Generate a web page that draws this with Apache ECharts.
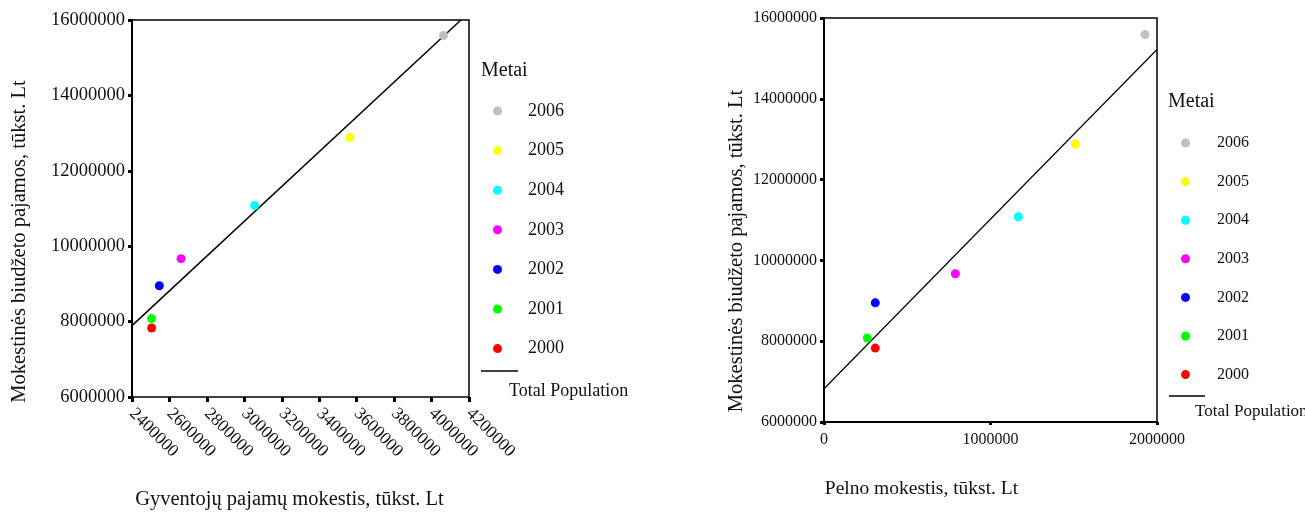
<!DOCTYPE html>
<html>
<head>
<meta charset="utf-8">
<script src="https://cdn.jsdelivr.net/npm/echarts@6/dist/echarts.min.js"></script>
<style>
  html, body { margin: 0; padding: 0; background: #fff; }
  #chart { width: 1305px; height: 512px; }
</style>
</head>
<body>
<div id="chart"></div>
<script>
// Budget tax revenue vs. personal income tax and profit tax, 2000–2006 (thous. Lt)
const years = ['2006', '2005', '2004', '2003', '2002', '2001', '2000'];
const budgetRevenue = [15590000, 12880000, 11080000, 9670000, 8950000, 8080000, 7830000];
const personalIncomeTax = [4064000, 3564000, 3055000, 2662000, 2546000, 2505000, 2505000];
const profitTax = [1928000, 1509000, 1167000, 789000, 308000, 260000, 308000];

// Fitted line ends (Total Population)
const fitIncomeTax = [[2400000, 7894000], [4157000, 16000000]];
const fitProfitTax = [[0, 6824000], [2000000, 15220000]];

// Axis ranges
const yRange = [6000000, 16000000, 2000000];
const xIncomeRange = [2400000, 4200000, 200000];
const xProfitRange = [0, 2000000, 1000000];

const yearColors = ['#c0c0c0', '#ffff00', '#00ffff', '#ff00ff', '#0000ff', '#00ff00', '#ff0000'];
const FONT = "'Liberation Serif', 'Times New Roman', serif";
const INK = '#111';
const plain = v => String(Math.round(v));

const chart = echarts.init(document.getElementById('chart'), null, { renderer: 'canvas' });

function yAxisFor(gridIndex, labelSize, nameOpts) {
  return {
    type: 'value', gridIndex,
    min: yRange[0], max: yRange[1], interval: yRange[2],
    name: 'Mokestinės biudžeto pajamos, tūkst. Lt',
    nameLocation: 'middle', nameRotate: 90,
    nameGap: nameOpts.gap,
    nameTextStyle: { fontFamily: FONT, fontSize: 20.5, color: INK, padding: nameOpts.padding },
    axisLine: { show: true, lineStyle: { color: '#000', width: 2 } },
    axisTick: { show: true, length: 4, lineStyle: { color: '#000', width: 3 } },
    axisLabel: { fontFamily: FONT, fontSize: labelSize, color: INK, margin: 7, formatter: plain },
    splitLine: { show: false }
  };
}

const scatterSeries = [];
years.forEach((y, i) => {
  scatterSeries.push({
    name: y, type: 'scatter', xAxisIndex: 0, yAxisIndex: 0,
    symbolSize: 9, itemStyle: { color: yearColors[i], opacity: 1 },
    data: [[personalIncomeTax[i], budgetRevenue[i]]], z: 3
  });
  scatterSeries.push({
    name: y, type: 'scatter', xAxisIndex: 1, yAxisIndex: 1,
    symbolSize: 9, itemStyle: { color: yearColors[i], opacity: 1 },
    data: [[profitTax[i], budgetRevenue[i]]], z: 3
  });
});

const option = {
  backgroundColor: '#fff',
  animation: false,
  grid: [
    { left: 132, top: 20, width: 337, height: 377, show: true, borderColor: '#000', borderWidth: 1.5,
      containLabel: false, outerBoundsMode: 'none' },
    { left: 824, top: 18, width: 333, height: 404, show: true, borderColor: '#000', borderWidth: 1.5,
      containLabel: false, outerBoundsMode: 'none' }
  ],
  xAxis: [
    {
      type: 'value', gridIndex: 0,
      min: xIncomeRange[0], max: xIncomeRange[1], interval: xIncomeRange[2],
      name: 'Gyventojų pajamų mokestis, tūkst. Lt',
      nameLocation: 'middle', nameGap: 92,
      nameTextStyle: { fontFamily: FONT, fontSize: 20.5, color: INK, padding: [0, 22, 0, 0] },
      axisLine: { show: false },
      axisTick: { show: true, length: 5, lineStyle: { color: '#000', width: 3 } },
      axisLabel: { fontFamily: FONT, fontSize: 17.5, color: INK, rotate: -45, margin: 14, formatter: plain },
      splitLine: { show: false }
    },
    {
      type: 'value', gridIndex: 1,
      min: xProfitRange[0], max: xProfitRange[1], interval: xProfitRange[2],
      name: 'Pelno mokestis, tūkst. Lt',
      nameLocation: 'middle', nameGap: 57,
      nameTextStyle: { fontFamily: FONT, fontSize: 19.5, color: INK, padding: [0, 138, 0, 0] },
      axisLine: { show: true, lineStyle: { color: '#000', width: 2 } },
      axisTick: { show: true, length: 3, lineStyle: { color: '#000', width: 3 } },
      axisLabel: { fontFamily: FONT, fontSize: 16, color: INK, margin: 10, formatter: plain },
      splitLine: { show: false }
    }
  ],
  yAxis: [
    yAxisFor(0, 18.5, { gap: 102, padding: [0, 66, 0, 0] }),
    yAxisFor(1, 16, { gap: 77, padding: [0, 62, 0, 0] })
  ],
  legend: [
    {
      data: years, orient: 'vertical', left: 488, top: 97,
      icon: 'circle', itemWidth: 9, itemHeight: 9, itemGap: 21.6,
      selectedMode: false,
      textStyle: { fontFamily: FONT, fontSize: 18, color: INK, padding: [0, 0, 0, 21] }
    },
    {
      data: years, orient: 'vertical', left: 1176, top: 130,
      icon: 'circle', itemWidth: 9, itemHeight: 9, itemGap: 22.6,
      selectedMode: false,
      textStyle: { fontFamily: FONT, fontSize: 16, color: INK, padding: [0, 0, 0, 22] }
    }
  ],
  graphic: [
    { type: 'text', left: 481, top: 61, style: { text: 'Metai', font: '20px ' + FONT, fill: INK } },
    { type: 'line', shape: { x1: 481, y1: 371, x2: 518, y2: 371 }, style: { stroke: '#000', lineWidth: 1.5 } },
    { type: 'text', left: 509, top: 382, style: { text: 'Total Population', font: '18px ' + FONT, fill: INK } },
    { type: 'text', left: 1168, top: 92, style: { text: 'Metai', font: '20px ' + FONT, fill: INK } },
    { type: 'line', shape: { x1: 1169, y1: 396, x2: 1205, y2: 396 }, style: { stroke: '#000', lineWidth: 1.5 } },
    { type: 'text', left: 1195, top: 403, style: { text: 'Total Population', font: '17px ' + FONT, fill: INK } }
  ],
  series: [
    {
      name: 'Total Population', type: 'line', xAxisIndex: 0, yAxisIndex: 0,
      data: fitIncomeTax, showSymbol: false, symbol: 'none',
      lineStyle: { color: '#000', width: 1.5 }, z: 2, silent: true
    },
    {
      name: 'Total Population', type: 'line', xAxisIndex: 1, yAxisIndex: 1,
      data: fitProfitTax, showSymbol: false, symbol: 'none',
      lineStyle: { color: '#000', width: 1.2 }, z: 2, silent: true
    },
    ...scatterSeries
  ]
};

chart.setOption(option);
</script>
</body>
</html>
